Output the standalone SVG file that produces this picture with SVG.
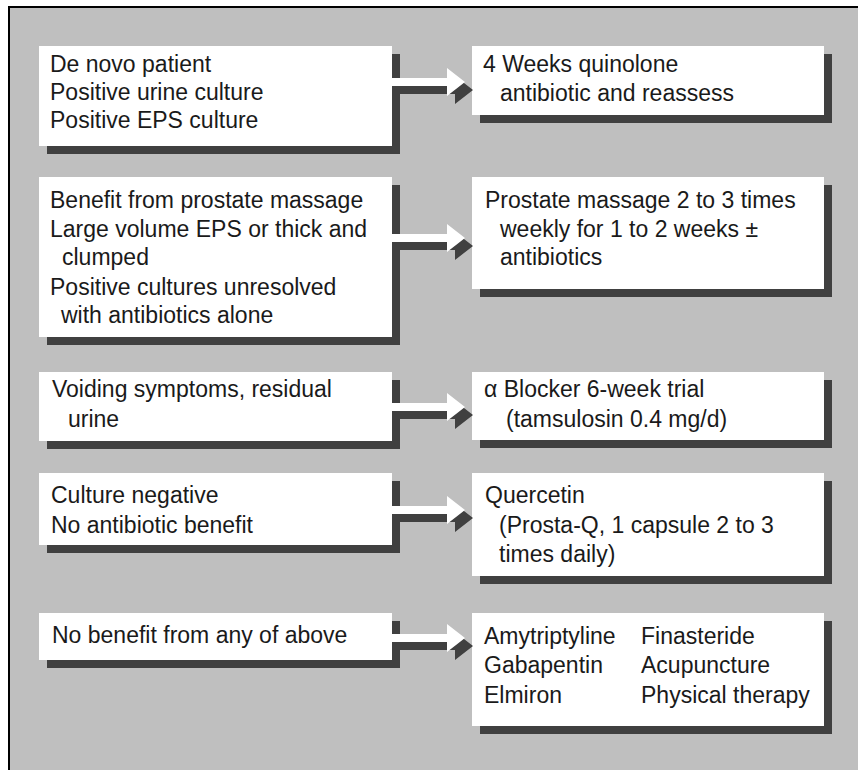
<svg xmlns="http://www.w3.org/2000/svg" width="858" height="770" viewBox="0 0 858 770">
<style>
  .bg { fill: #bfbfbf; }
  .frame { stroke: #000; stroke-width: 2; fill: none; }
  .box { fill: #ffffff; }
  .shadow { fill: #404040; }
  .arrow { fill: #ffffff; }
  .ashadow { fill: #404040; }
  text { font-family: "Liberation Sans", Arial, sans-serif; font-size: 23px; fill: #1a1a1a; }
</style>
<defs>
  <polygon id="arr" points="0,-4 55,-4 55,-14 73,0 55,14 55,4 0,4"/>
</defs>
<rect x="0" y="0" width="858" height="770" fill="#ffffff"/>
<rect class="bg" x="9" y="7" width="849" height="763"/>
<path class="frame" d="M9,770 V7 H858"/>

<g id="node-l1">
  <rect class="shadow" x="47" y="54" width="353" height="100"/>
  <rect class="box" x="39" y="46" width="353" height="100"/>
  <text x="50" y="72">De novo patient</text>
  <text x="50" y="100">Positive urine culture</text>
  <text x="50" y="128">Positive EPS culture</text>
</g>
<g id="node-r1">
  <rect class="shadow" x="480" y="54" width="352" height="69"/>
  <rect class="box" x="472" y="46" width="352" height="69"/>
  <text x="483" y="72">4 Weeks quinolone</text>
  <text x="500" y="101">antibiotic and reassess</text>
</g>

<g id="node-l2">
  <rect class="shadow" x="47" y="185" width="353" height="160"/>
  <rect class="box" x="39" y="177" width="353" height="160"/>
  <text x="50" y="208">Benefit from prostate massage</text>
  <text x="50" y="237">Large volume EPS or thick and</text>
  <text x="62" y="265">clumped</text>
  <text x="50" y="295">Positive cultures unresolved</text>
  <text x="61" y="323">with antibiotics alone</text>
</g>
<g id="node-r2">
  <rect class="shadow" x="480" y="185" width="352" height="112"/>
  <rect class="box" x="472" y="177" width="352" height="112"/>
  <text x="485" y="208">Prostate massage 2 to 3 times</text>
  <text x="500" y="237">weekly for 1 to 2 weeks ±</text>
  <text x="500" y="265">antibiotics</text>
</g>

<g id="node-l3">
  <rect class="shadow" x="47" y="380" width="353" height="69"/>
  <rect class="box" x="39" y="372" width="353" height="69"/>
  <text x="52" y="397">Voiding symptoms, residual</text>
  <text x="68" y="427">urine</text>
</g>
<g id="node-r3">
  <rect class="shadow" x="480" y="380" width="352" height="68"/>
  <rect class="box" x="472" y="372" width="352" height="68"/>
  <text x="484" y="397">α Blocker 6-week trial</text>
  <text x="506" y="427">(tamsulosin 0.4 mg/d)</text>
</g>

<g id="node-l4">
  <rect class="shadow" x="47" y="481" width="353" height="72"/>
  <rect class="box" x="39" y="473" width="353" height="72"/>
  <text x="51" y="503">Culture negative</text>
  <text x="51" y="533">No antibiotic benefit</text>
</g>
<g id="node-r4">
  <rect class="shadow" x="480" y="481" width="352" height="103"/>
  <rect class="box" x="472" y="473" width="352" height="103"/>
  <text x="485" y="503">Quercetin</text>
  <text x="499" y="533">(Prosta-Q, 1 capsule 2 to 3</text>
  <text x="499" y="562">times daily)</text>
</g>

<g id="node-l5">
  <rect class="shadow" x="47" y="621" width="353" height="47"/>
  <rect class="box" x="39" y="613" width="353" height="47"/>
  <text x="52" y="643">No benefit from any of above</text>
</g>
<g id="node-r5">
  <rect class="shadow" x="480" y="621" width="352" height="113"/>
  <rect class="box" x="472" y="613" width="352" height="113"/>
  <text x="484" y="644">Amytriptyline</text>
  <text x="641" y="644">Finasteride</text>
  <text x="484" y="673">Gabapentin</text>
  <text x="641" y="673">Acupuncture</text>
  <text x="484" y="703">Elmiron</text>
  <text x="641" y="703">Physical therapy</text>
</g>

<g id="connectors">
  <use href="#arr" class="ashadow" transform="translate(400,90)"/>
  <use href="#arr" class="arrow" transform="translate(392,82)"/>
  <use href="#arr" class="ashadow" transform="translate(400,246)"/>
  <use href="#arr" class="arrow" transform="translate(392,238)"/>
  <use href="#arr" class="ashadow" transform="translate(400,415)"/>
  <use href="#arr" class="arrow" transform="translate(392,407)"/>
  <use href="#arr" class="ashadow" transform="translate(400,518)"/>
  <use href="#arr" class="arrow" transform="translate(392,510)"/>
  <use href="#arr" class="ashadow" transform="translate(400,646)"/>
  <use href="#arr" class="arrow" transform="translate(392,638)"/>
</g>
</svg>
